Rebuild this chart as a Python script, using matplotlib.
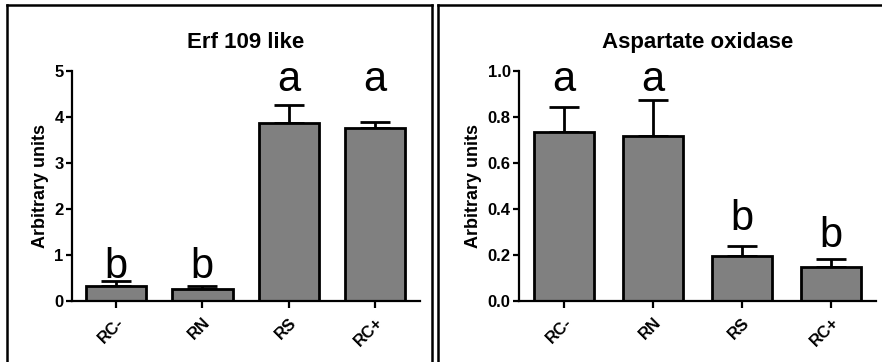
import matplotlib
matplotlib.use("Agg")
import matplotlib.pyplot as plt
from matplotlib.lines import Line2D

plt.rcParams['font.family'] = ['Liberation Sans', 'DejaVu Sans']

categories = ["RC-", "RN", "RS", "RC+"]
erf_values = [0.33, 0.27, 3.87, 3.75]
erf_errors = [0.10, 0.06, 0.38, 0.13]
erf_letters = ["b", "b", "a", "a"]
asp_values = [0.732, 0.716, 0.195, 0.149]
asp_errors = [0.112, 0.157, 0.044, 0.032]
asp_letters = ["a", "a", "b", "b"]

W, H = 882, 362
fig = plt.figure(figsize=(W / 100, H / 100), dpi=100)

def fx(px):
    return px / W

def fy(py):
    return 1 - py / H

def panel(ax, vals, errs, letters, ylim, yticks, yticklabels, xlim, width, title, letter_pos, title_weight):
    x = list(range(len(categories)))
    ax.bar(x, vals, width=width, color="#808080", edgecolor="black", linewidth=2.0, zorder=2)
    ax.errorbar(x, vals, yerr=[[0] * len(errs), errs], fmt="none", ecolor="black",
                elinewidth=2.0, capsize=11, capthick=2.0, zorder=1)
    ax.set_xlim(*xlim)
    ax.set_ylim(*ylim)
    ax.set_yticks(yticks)
    ax.set_yticklabels(yticklabels, fontsize=12, fontweight="bold")
    ax.set_xticks(x)
    ax.set_xticklabels(categories, rotation=45, ha="right", rotation_mode="anchor",
                       fontsize=12, fontweight="bold")
    for s in ["top", "right"]:
        ax.spines[s].set_visible(False)
    for s in ["left", "bottom"]:
        ax.spines[s].set_linewidth(1.6)
    ax.tick_params(axis="both", width=1.6, length=4, direction="out", pad=2)
    ax.tick_params(axis="x", length=5, pad=5)
    ax.set_ylabel("Arbitrary units", fontsize=13, fontweight="bold", labelpad=4)
    ax.set_title(title, fontsize=16, fontweight=title_weight, pad=16)
    for xi, (lt, ly) in enumerate(zip(letters, letter_pos)):
        ax.text(xi, ly, lt, ha="center", va="baseline", fontsize=30)

ax1 = fig.add_axes([fx(72), fy(301), fx(420) - fx(72), fy(70.7) - fy(301)])
panel(ax1, erf_values, erf_errors, erf_letters, (0, 5), [0, 1, 2, 3, 4, 5],
      ["0", "1", "2", "3", "4", "5"], (-0.51, 3.52), 0.70, "Erf 109 like",
      [0.50, 0.50, 4.57, 4.57], "heavy")

ax2 = fig.add_axes([fx(519), fy(301), fx(876) - fx(519), fy(70.7) - fy(301)])
panel(ax2, asp_values, asp_errors, asp_letters, (0, 1.0), [0, 0.2, 0.4, 0.6, 0.8, 1.0],
      ["0.0", "0.2", "0.4", "0.6", "0.8", "1.0"], (-0.506, 3.506), 0.674, "Aspartate oxidase",
      [0.913, 0.913, 0.308, 0.236], "bold")

# panel frames
lw = 1.8
fig.add_artist(Line2D([fx(7), fx(7)], [0, fy(4.5)], color="black", lw=lw))
fig.add_artist(Line2D([fx(7), fx(432)], [fy(4.5), fy(4.5)], color="black", lw=lw))
fig.add_artist(Line2D([fx(432), fx(432)], [0, fy(4.5)], color="black", lw=lw))
fig.add_artist(Line2D([fx(438), fx(438)], [0, fy(4.5)], color="black", lw=lw))
fig.add_artist(Line2D([fx(438), 1], [fy(4.5), fy(4.5)], color="black", lw=lw))

fig.savefig("out.png", dpi=100)
